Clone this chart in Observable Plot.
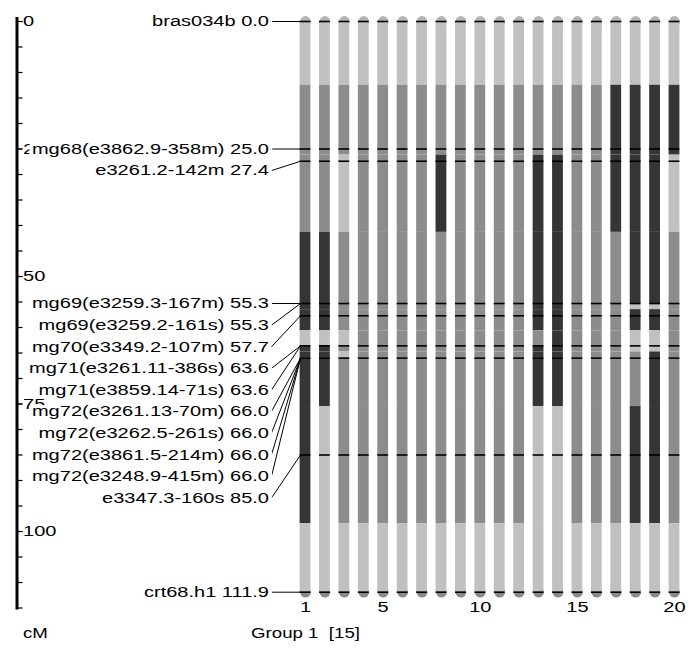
<!DOCTYPE html>
<html>
<head>
<meta charset="utf-8">
<script src="https://cdn.jsdelivr.net/npm/d3@7"></script>
<script src="https://cdn.jsdelivr.net/npm/@observablehq/plot@0.6"></script>
<style>
  html, body { margin: 0; padding: 0; background: #fff; }
  #chart svg { display: block; }
</style>
</head>
<body>
<div id="chart"></div>
<script>
// ---------------- data ----------------
const markerNames = [
  "bras034b",
  "mg68(e3862.9-358m)",
  "e3261.2-142m",
  "mg69(e3259.3-167m)",
  "mg69(e3259.2-161s)",
  "mg70(e3349.2-107m)",
  "mg71(e3261.11-386s)",
  "mg71(e3859.14-71s)",
  "mg72(e3261.13-70m)",
  "mg72(e3262.5-261s)",
  "mg72(e3861.5-214m)",
  "mg72(e3248.9-415m)",
  "e3347.3-160s",
  "crt68.h1"
];
const markerPositions = [0.0, 25.0, 27.4, 55.3, 55.3, 57.7, 63.6, 63.6, 66.0, 66.0, 66.0, 66.0, 85.0, 111.9];
const columns = [1, 2, 3, 4, 5, 6, 7, 8, 9, 10, 11, 12, 13, 14, 15, 16, 17, 18, 19, 20];
// genotype per marker (row) for each of the 20 lines (L = light, M = medium, D = dark)
const genotypes = [
  "LLLLLLLLLLLLLLLLLLLL",
  "MMMMMMMMMMMMMMMMDDDD",
  "MMLMMMMDMMMMDDMMDDDL",
  "DDMMMMMMMMMMDDMMMDDM",
  "DDMMMMMMMMMMDDMMMLLM",
  "DDMMMMMMMMMMDDMMMDDM",
  "LLLMMMMMMMMMMDMMMLLM",
  "DDMMMMMMMMMMDDMMMLLM",
  "DDLMMMMMMMMMDDMMMMDM",
  "DDLMMMMMMMMMDDMMMMDM",
  "DDLMMMMMMMMMDDMMMMDM",
  "DDMMMMMMMMMMDDMMMMDM",
  "DLMMMMMMMMMMLLMMMDDM",
  "LLLLLLLLLLLLLLLLLLLL"
];
const genotypeCodes = ["L", "M", "D"];
const axisLabelTicks = [0, 25, 50, 75, 100];
const axisMinorTicks = [0, 5, 10, 15, 20, 25, 30, 35, 40, 45, 50, 55, 60, 65, 70, 75, 80, 85, 90, 95, 100, 105, 110, 115];
const columnTicks = [1, 5, 10, 15, 20];
const unitLabel = "cM";
const groupLabel = "Group 1\u00a0\u00a0[15]";

// ---------------- layout / style ----------------
const W = 691, H = 650;
const Y_TOP_PX = 21, PX_PER_CM = 5.1, Y_MAX = 115;
const COL_FIRST_PX = 305, COL_LAST_PX = 674;
const BAR_HALF_PX = 5.4;
const AXIS_PX = 16.5;
const LABEL_END_PX = 268.5, LEADER_START_PX = 271, LEADER_END_PX = 300;
const LABEL_GAP_PX = 21.6;
const FONT = "'Liberation Sans', Arial, sans-serif";
const FONT_SIZE = 15;
const TEXT_STRETCH = 1.335;
const genotypeColors = ["#c0c0c0", "#8c8c8c", "#353535"];

const colStep = (COL_LAST_PX - COL_FIRST_PX) / (columns[columns.length - 1] - columns[0]);
const px2col = px => columns[0] + (px - COL_FIRST_PX) / colStep;
const hw = BAR_HALF_PX / colStep;
const yBottomPx = Y_TOP_PX + Y_MAX * PX_PER_CM;

// segments: each marker colours the interval between midpoints to its neighbours
const n = markerPositions.length;
const bounds = markerPositions.map((p, i) => [
  i === 0 ? p : (markerPositions[i - 1] + p) / 2,
  i === n - 1 ? p : (p + markerPositions[i + 1]) / 2
]);
const segments = [];
columns.forEach((c, j) => {
  markerPositions.forEach((p, i) => {
    const [a, b] = bounds[i];
    if (b > a) segments.push({col: c, y1: a, y2: b, g: genotypes[i][j]});
  });
});

const uniquePositions = Array.from(new Set(markerPositions));
const markerLines = [];
columns.forEach(c => uniquePositions.forEach(p => markerLines.push({col: c, pos: p})));

// label placement: push labels down so they don't overlap
const gapCM = LABEL_GAP_PX / PX_PER_CM;
const labelPositions = [];
markerPositions.forEach((p, i) => {
  labelPositions.push(i === 0 ? p : Math.max(p, labelPositions[i - 1] + gapCM));
});
const markers = markerNames.map((name, i) => ({
  name, pos: markerPositions[i], labelPos: labelPositions[i],
  text: name + " " + markerPositions[i].toFixed(1)
}));

const capTop = columns.map(c => ({col: c, pos: markerPositions[0]}));
const capBottom = columns.map(c => ({col: c, pos: markerPositions[n - 1]}));

const chart = Plot.plot({
  width: W,
  height: H,
  marginTop: 18,
  marginBottom: H - yBottomPx,
  marginLeft: AXIS_PX,
  marginRight: W - COL_LAST_PX,
  style: {fontFamily: FONT, fontSize: FONT_SIZE + "px", color: "black", background: "white"},
  x: {domain: [columns[0], columns[columns.length - 1]], range: [COL_FIRST_PX, COL_LAST_PX], axis: null},
  y: {domain: [0, Y_MAX], range: [Y_TOP_PX, yBottomPx], axis: null},
  color: {domain: genotypeCodes, range: genotypeColors},
  marks: [
    // vertical cM axis
    Plot.frame({anchor: "left", stroke: "black", strokeWidth: 3}),
    Plot.axisY(axisMinorTicks, {anchor: "right", frameAnchor: "left", tickSize: 5, fill: "none", label: null, stroke: "black", strokeWidth: 1.2}),
    Plot.axisY(axisLabelTicks, {anchor: "right", frameAnchor: "left", tickSize: 5, tickPadding: 1, label: null, fill: "black", stroke: "black", fontSize: FONT_SIZE}),
    // column number labels
    Plot.axisX(columnTicks, {anchor: "bottom", tickSize: 0, tickPadding: 0, dy: -7, label: null, fill: "black", fontSize: FONT_SIZE}),
    // rounded caps
    Plot.dot(capTop, {x: "col", y: "pos", r: BAR_HALF_PX, fill: "#b4b4b4", stroke: "none"}),
    Plot.dot(capBottom, {x: "col", y: "pos", r: BAR_HALF_PX, fill: "#8a8a8a", stroke: "none"}),
    // genotype segments
    Plot.rect(segments, {x1: d => d.col - hw, x2: d => d.col + hw, y1: "y1", y2: "y2", fill: "g"}),
    // marker lines across each bar
    Plot.ruleY(markerLines, {y: "pos", x1: d => d.col - hw, x2: d => d.col + hw, stroke: "black", strokeWidth: 1.6}),
    // leader lines
    Plot.link(markers, {x1: () => px2col(LEADER_START_PX), y1: "labelPos", x2: () => px2col(LEADER_END_PX), y2: "pos", stroke: "black", strokeWidth: 1}),
    // marker labels (opaque white halo like the original's label boxes)
    Plot.text(markers, {x: () => px2col(LABEL_END_PX), y: "labelPos", text: "text", textAnchor: "end", fill: "black", stroke: "white", strokeWidth: 6, fontSize: FONT_SIZE}),
    // bottom labels
    Plot.text([unitLabel], {frameAnchor: "bottom-left", dx: 6, dy: 30, text: d => d, textAnchor: "start", fill: "black", fontSize: FONT_SIZE - 1}),
    Plot.text([groupLabel], {x: () => columns[0], frameAnchor: "bottom", dy: 30, text: d => d, textAnchor: "middle", fill: "black", fontSize: FONT_SIZE - 1})
  ]
});

// horizontally stretch the glyphs (the original bitmap font is wide)
chart.querySelectorAll("text").forEach(t => {
  const tr = t.getAttribute("transform");
  if (tr) {
    t.setAttribute("transform", tr + ` scale(${TEXT_STRETCH},1)`);
  } else {
    const x = +(t.getAttribute("x") || 0), y = +(t.getAttribute("y") || 0);
    t.setAttribute("x", 0); t.setAttribute("y", 0);
    t.setAttribute("transform", `translate(${x},${y}) scale(${TEXT_STRETCH},1)`);
  }
});

document.getElementById("chart").appendChild(chart);
</script>
</body>
</html>
